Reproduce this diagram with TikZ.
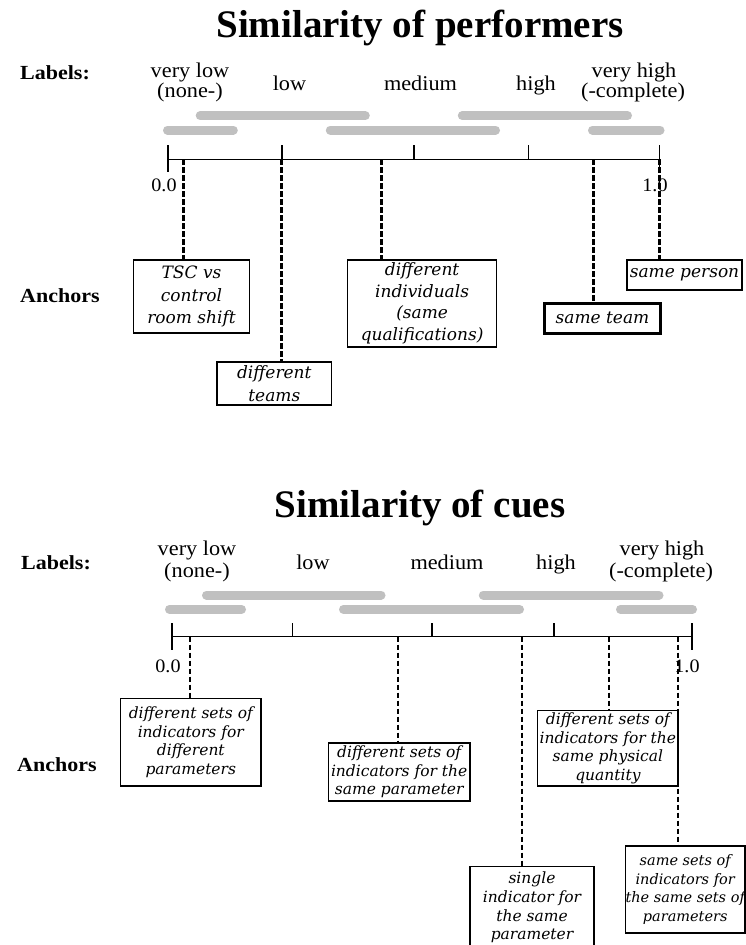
\documentclass[tikz,border=0pt]{standalone}
\usepackage{fontspec}
\setmainfont{Liberation Serif}
\newfontfamily\titlefont{Liberation Serif}
\newfontfamily\lblfont{Liberation Serif}[FakeStretch=1.06]
\newfontfamily\headfont{Liberation Serif}[FakeStretch=1.1]
\newfontfamily\boxfont{DejaVu Serif}
\definecolor{barGray}{RGB}{192,192,192}
\tikzset{
  graybar/.style={line width=9pt, line cap=round, draw=barGray},
  axisline/.style={line width=1.4pt},
  anchorline/.style={line width=2.8pt, dash pattern=on 5.5pt off 2.5pt},
  abox/.style={draw, line width=1.3pt, inner sep=0pt, align=center,
    font=\boxfont\itshape\fontsize{17}{22.5}\selectfont},
  bbox/.style={abox, font=\boxfont\itshape\fontsize{15.5}{18.7}\selectfont},
  lbl/.style={anchor=base, inner sep=0pt, font=\lblfont\fontsize{21}{24}\selectfont},
  num/.style={anchor=base, inner sep=0pt, font=\lblfont\fontsize{19}{22}\selectfont},
  head/.style={anchor=base west, inner sep=0pt, font=\headfont\bfseries\fontsize{20}{24}\selectfont},
  ttl/.style={anchor=base, inner sep=0pt, font=\titlefont\bfseries\fontsize{39}{44}\selectfont},
}
\begin{document}
\begin{tikzpicture}[x=1pt,y=-1pt]
\useasboundingbox (0,0) rectangle (746,945);
\fill[white] (0,0) rectangle (746,945);
\clip (0,0) rectangle (746,945);

% ---------------- top: performers ----------------
\node[ttl] (t1) at (420,37.7) {Similarity of performers};
\node[head] (lab1) at (20,79) {Labels:};
\node[lbl] (vl1a) at (190,77) {very low};
\node[lbl] (vl1b) at (190,97) {(none-)};
\node[lbl] (lo1) at (289.5,90.5) {low};
\node[lbl] (me1) at (420.5,90.5) {medium};
\node[lbl] (hi1) at (536,90.5) {high};
\node[lbl] (vh1a) at (634,77) {very high};
\node[lbl] (vh1b) at (633,97) {(-complete)};

\draw[graybar] (200.2,115.7) -- (365.3,115.7);
\draw[graybar] (462.3,115.7) -- (627.5,115.7);
\draw[graybar] (167.5,130) -- (233.3,130);
\draw[graybar] (330.3,130) -- (495.5,130);
\draw[graybar] (592.5,130) -- (660,130);

\draw[axisline] (168,159.3) -- (659.5,159.3);
\draw[axisline] (168,145) -- (168,172);
\draw[axisline] (282,145) -- (282,159.3);
\draw[axisline] (413.8,145) -- (413.8,159.3);
\draw[axisline] (528.6,145) -- (528.6,159.3);
\draw[axisline] (659.5,145) -- (659.5,172);

\node[num] (z1) at (164,191.7) {0.0};
\node[num] (o1) at (655,191.7) {1.0};

\node[head] (anc1) at (20,302.7) {Anchors};

\node[abox, minimum width=116pt, minimum height=73pt] (tsc) at (191.5,296.5) {TSC vs\\control\\room shift};
\node[abox, minimum width=114.7pt, minimum height=43pt] (dteams) at (274.3,383.5) {different\\teams};
\node[abox, minimum width=148.7pt, minimum height=87pt, font=\boxfont\itshape\fontsize{17}{21.5}\selectfont] (dind) at (422.1,303.5) {different\\individuals\\(same\\qualifications)};
\node[abox, line width=2.8pt, minimum width=116pt, minimum height=30pt] (steam) at (602.5,318.3) {same team};
\node[abox, minimum width=115pt, minimum height=30pt] (sper) at (684.5,275) {same person};

\coordinate (p1) at (183.3,159.3);
\coordinate (p2) at (281.7,159.3);
\coordinate (p3) at (381.5,159.3);
\coordinate (p4) at (593.7,159.3);
\coordinate (p5) at (659.5,159.3);
\draw[anchorline] (p1) -- (p1 |- tsc.north);
\draw[anchorline] (p2) -- (p2 |- dteams.north);
\draw[anchorline] (p3) -- (p3 |- dind.north);
\draw[anchorline] (p4) -- (p4 |- steam.north);
\draw[anchorline] (p5) -- (p5 |- sper.north);

% ---------------- bottom: cues ----------------
\node[ttl] (t2) at (420,517) {Similarity of cues};
\node[head] (lab2) at (21,569) {Labels:};
\node[lbl] (vl2a) at (197,555) {very low};
\node[lbl] (vl2b) at (197,577) {(none-)};
\node[lbl] (lo2) at (313,569.5) {low};
\node[lbl] (me2) at (447,569.5) {medium};
\node[lbl] (hi2) at (556,569.5) {high};
\node[lbl] (vh2a) at (662,555) {very high};
\node[lbl] (vh2b) at (661,577) {(-complete)};

\draw[graybar] (206.5,595) -- (381,595);
\draw[graybar] (483.3,595) -- (659,595);
\draw[graybar] (169.5,609.3) -- (241.5,609.3);
\draw[graybar] (343.5,609.3) -- (519.5,609.3);
\draw[graybar] (620.5,609.3) -- (692.5,609.3);

\draw[axisline] (172,636.7) -- (692,636.7);
\draw[axisline] (172,623.3) -- (172,650);
\draw[axisline] (292.6,623.3) -- (292.6,636.7);
\draw[axisline] (432,623.3) -- (432,636.7);
\draw[axisline] (554,623.3) -- (554,636.7);
\draw[axisline] (692,623.3) -- (692,650);

\node[num] (z2) at (168,672) {0.0};
\node[num] (o2) at (687,672) {1.0};

\node[head] (anc2) at (17,771.7) {Anchors};

\node[bbox, minimum width=140.4pt, minimum height=87.7pt] (lp) at (190.8,742.2) {different sets of\\indicators for\\different\\parameters};
\node[bbox, minimum width=141.5pt, minimum height=58pt] (sp) at (399.2,772) {different sets of\\indicators for the\\same parameter};
\node[bbox, minimum width=140.3pt, minimum height=75.3pt] (pq) at (607.9,748.4) {different sets of\\indicators for the\\same physical\\quantity};
\node[bbox, minimum width=124pt, minimum height=81.3pt] (si) at (532,907.4) {single\\indicator for\\the same\\parameter};
\node[bbox, minimum width=119.5pt, minimum height=87pt, font=\boxfont\itshape\fontsize{14.5}{18.7}\selectfont] (ss) at (685.2,889.5) {same sets of\\indicators for\\the same sets of\\parameters};

\coordinate (q1) at (190,636.7);
\coordinate (q2) at (398,636.7);
\coordinate (q3) at (522,636.7);
\coordinate (q4) at (609,636.7);
\coordinate (q5) at (678,636.7);
\draw[anchorline] (q1) -- (q1 |- lp.north);
\draw[anchorline] (q2) -- (q2 |- sp.north);
\draw[anchorline] (q3) -- (q3 |- si.north);
\draw[anchorline] (q4) -- (q4 |- pq.north);
\draw[anchorline] (q5) -- (q5 |- ss.north);
\end{tikzpicture}
\end{document}
